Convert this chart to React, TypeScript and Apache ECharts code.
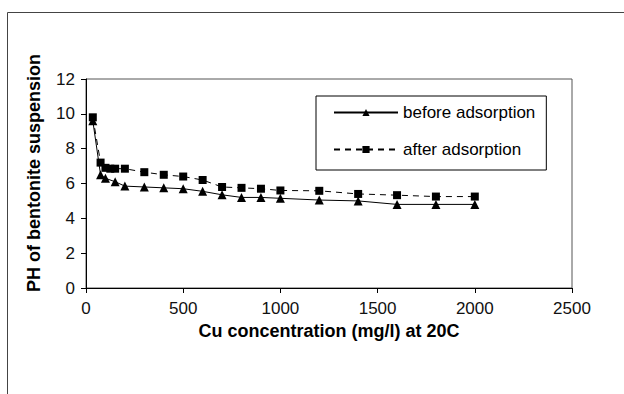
import React, { useEffect, useRef } from "react";
import * as echarts from "echarts";

const seriesNames = ["before adsorption", "after adsorption"];
const beforeX = [35, 75, 100, 150, 200, 300, 400, 500, 600, 700, 800, 900, 1000, 1200, 1400, 1600, 1800, 2000];
const beforeY = [9.6, 6.5, 6.3, 6.1, 5.85, 5.8, 5.75, 5.7, 5.55, 5.35, 5.2, 5.2, 5.15, 5.05, 5.0, 4.8, 4.8, 4.8];
const afterX = [35, 75, 100, 125, 150, 200, 300, 400, 500, 600, 700, 800, 900, 1000, 1200, 1400, 1600, 1800, 2000];
const afterY = [9.8, 7.2, 6.9, 6.85, 6.85, 6.85, 6.65, 6.5, 6.4, 6.2, 5.8, 5.75, 5.7, 5.6, 5.58, 5.4, 5.33, 5.25, 5.25];
const xTitle = "Cu concentration (mg/l) at 20C";
const yTitle = "PH of bentonite suspension";

const FONT = "Liberation Sans, Arial, sans-serif";

export default function App() {
  const ref = useRef<HTMLDivElement>(null);
  useEffect(() => {
    if (!ref.current) return;
    const chart = echarts.init(ref.current, undefined, { renderer: "svg" });
    const pair = (xs: number[], ys: number[]) => xs.map((x, i) => [x, ys[i]]);
    chart.setOption({
      animation: false,
      backgroundColor: "#fff",
      grid: {
        left: 86,
        top: 79,
        right: 52,
        bottom: 106,
        show: true,
        borderColor: "#555",
        borderWidth: 1,
        outerBoundsMode: "none",
      },
      xAxis: {
        type: "value",
        min: 0,
        max: 2500,
        interval: 500,
        name: xTitle,
        nameLocation: "middle",
        nameGap: 32,
        nameTextStyle: { fontFamily: FONT, fontSize: 18, fontWeight: "bold", color: "#000" },
        axisLine: { lineStyle: { color: "#000", width: 1 } },
        axisTick: { inside: false, length: 5, lineStyle: { color: "#000" } },
        axisLabel: {
          fontFamily: FONT,
          fontSize: 17,
          color: "#111",
          margin: 12,
          formatter: (v: number) => String(v),
        },
        splitLine: { show: false },
      },
      yAxis: {
        type: "value",
        min: 0,
        max: 12,
        interval: 2,
        axisLine: { show: true, lineStyle: { color: "#000", width: 1 } },
        axisTick: { show: true, inside: false, length: 5, lineStyle: { color: "#000" } },
        axisLabel: {
          fontFamily: FONT,
          fontSize: 17,
          color: "#111",
          margin: 11,
          formatter: (v: number) => String(v),
        },
        splitLine: { show: false },
      },
      legend: {
        orient: "vertical",
        left: 316,
        top: 96,
        backgroundColor: "#fff",
        borderColor: "#000",
        borderWidth: 1,
        padding: [8, 11, 12, 17],
        itemGap: 20,
        itemWidth: 64,
        itemHeight: 9,
        textStyle: { fontFamily: FONT, fontSize: 17, color: "#000" },
        data: seriesNames,
      },
      graphic: [
        {
          type: "rect",
          shape: { x: 7.5, y: 12.5, width: 800, height: 600 },
          style: { fill: "none", stroke: "#444", lineWidth: 1 },
          silent: true,
        },
        {
          type: "text",
          x: 34,
          y: 173,
          rotation: Math.PI / 2,
          style: {
            text: yTitle,
            font: `bold 18px ${FONT}`,
            fill: "#000",
            align: "center",
            verticalAlign: "middle",
          },
        },
      ],
      series: [
        {
          name: seriesNames[0],
          type: "line",
          data: pair(beforeX, beforeY),
          symbol: "triangle",
          symbolSize: 9,
          showAllSymbol: true,
          itemStyle: { color: "#000" },
          lineStyle: { color: "#000", width: 1, type: "solid" },
        },
        {
          name: seriesNames[1],
          type: "line",
          data: pair(afterX, afterY),
          symbol: "rect",
          symbolSize: 8,
          showAllSymbol: true,
          itemStyle: { color: "#000" },
          lineStyle: { color: "#000", width: 1, type: [6, 5] },
        },
      ],
    });
    return () => chart.dispose();
  }, []);
  return (
    <div
      ref={ref}
      style={{ position: "absolute", left: 0, top: 0, width: 624, height: 394 }}
    />
  );
}
